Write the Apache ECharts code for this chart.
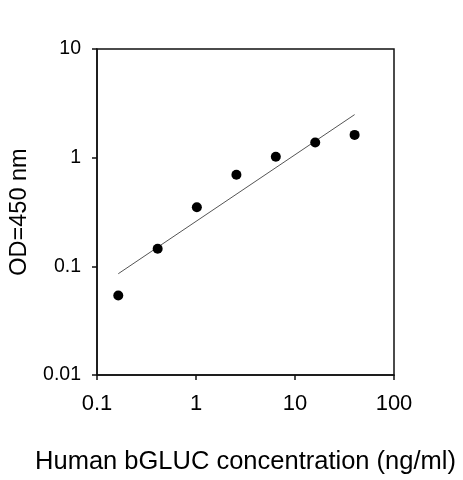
<!DOCTYPE html>
<html>
<head>
<meta charset="utf-8">
<script src="https://cdn.jsdelivr.net/npm/echarts@6/dist/echarts.min.js"></script>
<style>
html,body{margin:0;padding:0;background:#fff;}
#c{width:463px;height:480px;}
</style>
</head>
<body>
<div id="c"></div>
<script>
// Data
var concentrations = [0.164, 0.41, 1.02, 2.56, 6.4, 16, 40];
var odValues = [0.054, 0.145, 0.35, 0.695, 1.02, 1.38, 1.62];
var fitX = [0.164, 40];
var fitY = [0.0855, 2.49];
var xTickLabels = ['0.1', '1', '10', '100'];
var yTickLabels = ['0.01', '0.1', '1', '10'];

var points = concentrations.map(function (c, i) { return [c, odValues[i]]; });
var fitLine = fitX.map(function (x, i) { return [x, fitY[i]]; });

var chart = echarts.init(document.getElementById('c'), null, {renderer: 'canvas'});
var font = '"Liberation Sans", Arial, sans-serif';
chart.setOption({
  animation: false,
  backgroundColor: '#fff',
  grid: {
    left: 95, right: 69, top: 49, bottom: 104,
    show: true, borderColor: '#111', borderWidth: 1.5, backgroundColor: 'transparent'
  },
  xAxis: {
    type: 'log', logBase: 10, min: 0.1, max: 100, interval: 1,
    name: 'Human bGLUC concentration (ng/ml)',
    nameLocation: 'middle', nameGap: 74,
    nameTextStyle: {fontFamily: font, fontSize: 25.5, color: '#000'},
    axisLine: {show: true, lineStyle: {color: '#111', width: 1.5}},
    axisTick: {show: true, inside: false, length: 5, lineStyle: {color: '#111', width: 1.5}},
    minorTick: {show: false},
    splitLine: {show: false},
    axisLabel: {
      fontFamily: font, fontSize: 22, color: '#000', margin: 18,
      formatter: function (v) {
        var k = Math.round(Math.log10(v)) + 1;
        return xTickLabels[k] !== undefined ? xTickLabels[k] : '';
      }
    }
  },
  yAxis: {
    type: 'log', logBase: 10, min: 0.01, max: 10, interval: 1,
    name: 'OD=450 nm',
    nameLocation: 'middle', nameGap: 65,
    nameTextStyle: {fontFamily: font, fontSize: 23.5, color: '#000'},
    axisLine: {show: true, lineStyle: {color: '#111', width: 1.5}},
    axisTick: {show: true, inside: false, length: 5, lineStyle: {color: '#111', width: 1.5}},
    minorTick: {show: false},
    splitLine: {show: false},
    axisLabel: {
      fontFamily: font, fontSize: 19.5, color: '#000', margin: 16,
      formatter: function (v) {
        var k = Math.round(Math.log10(v)) + 2;
        return yTickLabels[k] !== undefined ? yTickLabels[k] : '';
      }
    }
  },
  series: [
    {
      type: 'line',
      data: fitLine,
      showSymbol: false,
      symbol: 'none',
      lineStyle: {color: '#555', width: 1},
      silent: true,
      z: 1
    },
    {
      type: 'scatter',
      data: points,
      symbol: 'circle',
      symbolSize: 10,
      itemStyle: {color: '#000', opacity: 1},
      z: 2
    }
  ]
});
</script>
</body>
</html>
